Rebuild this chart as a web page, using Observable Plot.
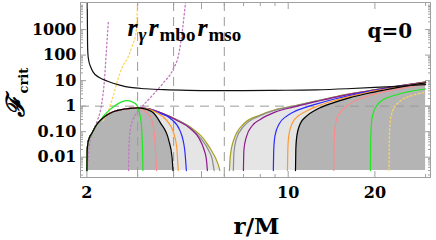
<!DOCTYPE html>
<html><head><meta charset="utf-8">
<script src="https://cdn.jsdelivr.net/npm/d3@7"></script>
<script src="https://cdn.jsdelivr.net/npm/@observablehq/plot@0.6"></script>
<style>body{margin:0;background:#fff;}</style>
</head><body><div id="chart"></div>
<script>
// ---- ticks / labels
const xTickVals = [2, 5, 10, 20];
const xTickText = ["2", "5", "10", "20"];
const xMinorVals = [3, 4, 6, 7, 8, 9, 30];
const yTickVals = [0.01, 0.1, 1, 10, 100, 1000];
const yTickText = ["0.01", "0.10", "1", "10", "100", "1000"];
const yMinorVals = [];
for (const dec of [0.001, 0.01, 0.1, 1, 10, 100, 1000]) for (const m of [2,3,4,5,6,7,8,9]) yMinorVals.push(dec * m);
const refR = [3, 4, 6];
const refF = [1];
const refSub = ["\u03b3", "mbo", "mso"];
const FLOOR = 0.003;

// ---- curves [r, F]
const blackTop = [[2.005,11500],[2.008,1500],[2.01,300],[2.015,120],[2.03,60],[2.06,35],[2.1,22],[2.2,13.5],[2.36,9.5],[2.6,6.7],[2.83,5.4],[3.2,4.8],[3.7,4.4],[4.5,4.15],[5.5,4.05],[7,4.05],[9,4.15],[12.5,4.35],[16,4.8],[20,5.4],[23.8,6.0],[30,7.0]];
const plumLeft = [[2.008,0.0047],[2.04,0.028],[2.106,0.11],[2.174,0.27],[2.245,1.05],[2.3,10],[2.337,150],[2.375,2250]];
const plumRight = [[2.79,0.003],[2.8,0.028],[2.83,0.13],[2.9,0.32],[3.07,0.8],[3.32,2.15],[3.69,8.3],[3.96,24.6],[4.19,150],[4.29,915],[4.40,11500]];
const yellowLeft = [[2.281,0.27],[2.375,0.67],[2.452,1.97],[2.555,10],[2.651,33],[2.764,73],[2.876,236],[2.97,915],[2.993,11500]];

// shared rising edge of the left lobes
const envRise = [[2.0,0.003],[2.003,0.015],[2.015,0.035],[2.04,0.058],[2.08,0.085],[2.15,0.17],[2.22,0.27],[2.35,0.45],[2.47,0.6],[2.65,0.74],[2.83,0.82],[3.0,0.85]];
// tails of the left lobes
const oliveTail = [[3.24,0.8],[3.69,0.5],[4.1,0.3],[4.58,0.15],[5.0,0.065],[5.22,0.035],[5.45,0.016],[5.6,0.009],[5.72,0.005],[5.79,0.003]];
const grayTail = [[3.24,0.8],[3.69,0.5],[4.1,0.29],[4.58,0.14],[5.0,0.05],[5.3,0.018],[5.45,0.008],[5.53,0.003]];
const purpleTail = [[3.24,0.8],[3.69,0.5],[4.1,0.28],[4.58,0.13],[4.9,0.055],[5.1,0.02],[5.2,0.008],[5.24,0.003]];
const blueTail = [[3.24,0.79],[3.6,0.52],[3.9,0.33],[4.21,0.11],[4.37,0.02],[4.43,0.003]];
const orangeTail = [[3.24,0.78],[3.5,0.55],[3.79,0.27],[4.0,0.09],[4.1,0.025],[4.15,0.003]];
const blackTail = [[3.15,0.8],[3.4,0.55],[3.6,0.22],[3.85,0.045],[3.95,0.01],[3.98,0.003]];
const pinkTail = [[2.85,0.9],[3.05,0.8],[3.2,0.6],[3.33,0.36],[3.43,0.08],[3.47,0.01],[3.49,0.003]];
const greenTail = [[2.3,0.45],[2.41,0.75],[2.55,1.2],[2.65,1.5],[2.76,1.64],[2.88,1.45],[2.99,1.05],[3.05,0.5],[3.09,0.2],[3.12,0.02],[3.13,0.003]];
// right branches
const oliveRight = [[6.25,0.003],[6.3,0.012],[6.46,0.045],[7.0,0.2],[8.0,0.45],[9.0,0.72],[10.4,1.0],[12.5,1.6],[14.5,2.3],[16.3,3.0],[19,4.0],[21.4,5.0],[25,6.6],[30,8.9]];
const grayRight = [[6.45,0.003],[6.48,0.015],[6.6,0.05],[7.0,0.16],[8.0,0.42],[9.0,0.69],[10.4,0.98],[12.5,1.58],[14.5,2.27],[16.3,2.97],[19,3.96],[21.4,4.95],[25,6.55],[30,8.85]];
const purpleRight = [[6.99,0.003],[7.02,0.02],[7.15,0.06],[7.5,0.17],[8.0,0.3],[9.0,0.58],[10.4,0.92],[12.5,1.5],[14.5,2.2],[16.3,2.9],[19,3.9],[21.4,4.9],[25,6.5],[30,8.8]];
const blueRight = [[8.88,0.003],[8.91,0.02],[9.0,0.07],[9.3,0.2],[9.8,0.38],[10.4,0.58],[11.5,0.9],[12.5,1.2],[14.5,1.9],[16.3,2.6],[19,3.7],[21.4,4.7],[25,6.3],[30,8.6]];
const orangeRight = [[9.94,0.003],[9.97,0.02],[10.05,0.07],[10.3,0.2],[10.8,0.4],[11.5,0.62],[12.5,0.95],[14.5,1.65],[16.3,2.35],[19,3.5],[21.4,4.5],[25,6.1],[30,8.4]];
const blackRight = [[10.6,0.003],[10.63,0.02],[10.72,0.07],[11.0,0.2],[11.5,0.38],[12.5,0.72],[14.5,1.4],[16.3,2.1],[19,3.2],[21.4,4.2],[25,5.8],[30,8.1]];
const pinkRight = [[14.4,0.003],[14.43,0.03],[14.55,0.15],[14.8,0.36],[15.2,0.6],[16.3,1.2],[18.5,2.3],[21.4,3.6],[25,5.1],[30,7.2]];
const greenRight = [[19.3,0.003],[19.33,0.03],[19.45,0.2],[19.8,0.6],[20.5,1.2],[21.5,1.85],[23.1,2.55],[26,3.6],[30,4.7]];
const yellowRight = [[22.4,0.003],[22.43,0.03],[22.6,0.25],[23,0.6],[24,1.3],[25.1,1.9],[27.5,2.8],[30,3.5]];

const lobe = tail => envRise.filter(p => p[0] < tail[0][0]).concat(tail);

const C = {olive:"#a8a020", gray:"#8c8c8c", purple:"#8e1b8e", blue:"#2a2aff", orange:"#ff9a33",
  black:"#000", pink:"#ff8a8a", green:"#1ee81e", plum:"#c27ac2", yellow:"#ffd45e"};

const solid = [
  [lobe(oliveTail), C.olive], [oliveRight, C.olive],
  [lobe(grayTail), C.gray], [grayRight, C.gray],
  [lobe(purpleTail), C.purple], [purpleRight, C.purple],
  [lobe(blueTail), C.blue], [blueRight, C.blue],
  [lobe(orangeTail), C.orange], [orangeRight, C.orange],
  [lobe(pinkTail), C.pink], [pinkRight, C.pink],
  [lobe(greenTail), C.green], [greenRight, C.green],
  [lobe(blackTail), C.black], [blackRight, C.black]
];
const dotted = [[plumLeft, C.plum], [plumRight, C.plum], [yellowLeft, C.yellow], [yellowRight, C.yellow]];

const X = d => d[0], Y = d => d[1];
const ML = 80, MT = 2;
const TIMES = "'Liberation Serif', 'Times New Roman', serif";
const lbl = (t, px, py, o) => Plot.text([t], {frameAnchor:"top-left", dx: px - ML, dy: py - MT, text: d => d, lineAnchor:"bottom", fill:"#000", ...o});

const marks = [
  Plot.areaY(lobe(oliveTail), {x:X, y1:FLOOR, y2:Y, fill:"#e5e5e5", curve:"monotone-x"}),
  Plot.areaY(oliveRight, {x:X, y1:FLOOR, y2:Y, fill:"#e5e5e5", curve:"monotone-x"}),
  Plot.areaY(lobe(blackTail), {x:X, y1:FLOOR, y2:Y, fill:"#b4b4b4", curve:"monotone-x"}),
  Plot.areaY(blackRight, {x:X, y1:FLOOR, y2:Y, fill:"#b4b4b4", curve:"monotone-x"}),
  Plot.ruleX(refR, {stroke:"#9a9a9a", strokeDasharray:"9,6", strokeWidth:1}),
  Plot.ruleY(refF, {stroke:"#9a9a9a", strokeDasharray:"9,6", strokeWidth:1}),
  ...dotted.map(([d, c]) => Plot.line(d, {x:X, y:Y, stroke:c, strokeWidth:1.3, strokeDasharray:"1.5,2.5", curve:"monotone-x", clip:true})),
  ...solid.map(([d, c]) => Plot.line(d, {x:X, y:Y, stroke:c, strokeWidth:1.2, curve:"monotone-x"})),
  Plot.line(blackTop, {x:X, y:Y, stroke:"#111", strokeWidth:1.2, curve:"monotone-x", clip:true}),
  Plot.frame({stroke:"#a0a0a0"}),
  Plot.axisY(yTickVals, {anchor:"left", tickSize:0, tickPadding:4, tickFormat: d => yTickText[yTickVals.indexOf(d)], fontSize:16, fill:"#000", label:null}),
  Plot.axisY(yTickVals, {anchor:"left", tickSize:-6, tickFormat:() => "", stroke:"#a0a0a0", label:null}),
  Plot.axisY(yMinorVals, {anchor:"left", tickSize:-3, tickFormat:() => "", stroke:"#a0a0a0", label:null}),
  Plot.axisY(yTickVals, {anchor:"right", tickSize:-6, tickFormat:() => "", stroke:"#a0a0a0", label:null}),
  Plot.axisY(yMinorVals, {anchor:"right", tickSize:-3, tickFormat:() => "", stroke:"#a0a0a0", label:null}),
  Plot.axisX(xTickVals, {anchor:"bottom", tickSize:0, tickPadding:9, tickFormat: d => xTickText[xTickVals.indexOf(d)], fontSize:16, fill:"#000", label:null}),
  Plot.axisX(xTickVals, {anchor:"bottom", tickSize:-6, tickFormat:() => "", stroke:"#a0a0a0", label:null}),
  Plot.axisX(xMinorVals, {anchor:"bottom", tickSize:-3, tickFormat:() => "", stroke:"#a0a0a0", label:null}),
  Plot.axisX(xTickVals, {anchor:"top", tickSize:-6, tickFormat:() => "", stroke:"#a0a0a0", label:null}),
  Plot.axisX(xMinorVals, {anchor:"top", tickSize:-3, tickFormat:() => "", stroke:"#a0a0a0", label:null}),
  // annotations
  lbl("q=0", 367, 37, {fontSize:20, textAnchor:"start"}),
  lbl("r", 127, 35, {fontSize:26, fontStyle:"italic", fontFamily:TIMES, textAnchor:"start"}),
  lbl(refSub[0], 138, 40, {fontSize:19, fontStyle:"italic", fontFamily:TIMES, textAnchor:"start"}),
  lbl("r", 148, 35, {fontSize:26, fontStyle:"italic", fontFamily:TIMES, textAnchor:"start"}),
  lbl(refSub[1], 159, 40, {fontSize:19, fontFamily:TIMES, textAnchor:"start"}),
  lbl("r", 197, 35, {fontSize:26, fontStyle:"italic", fontFamily:TIMES, textAnchor:"start"}),
  lbl(refSub[2], 208, 40, {fontSize:19, fontFamily:TIMES, textAnchor:"start"}),
  lbl("r/M", 256, 233, {fontSize:23, textAnchor:"middle"}),
  lbl("\u2131", 23, 106, {fontSize:25, fontStyle:"italic", textAnchor:"middle", rotate:-90}),
  lbl("crit", 27, 93, {fontSize:13, textAnchor:"start", rotate:-90})
];

const chart = Plot.plot({
  width: 436, height: 240,
  marginLeft: ML, marginRight: 6, marginTop: MT, marginBottom: 63,
  x: {type:"log", domain:[1.9, 31.2]},
  y: {type:"log", domain:[0.0016, 11500]},
  style: {fontFamily:"'DejaVu Serif', serif", fontWeight:"bold", background:"#fff", overflow:"visible"},
  marks
});
document.getElementById("chart").appendChild(chart);
</script>
</body></html>
